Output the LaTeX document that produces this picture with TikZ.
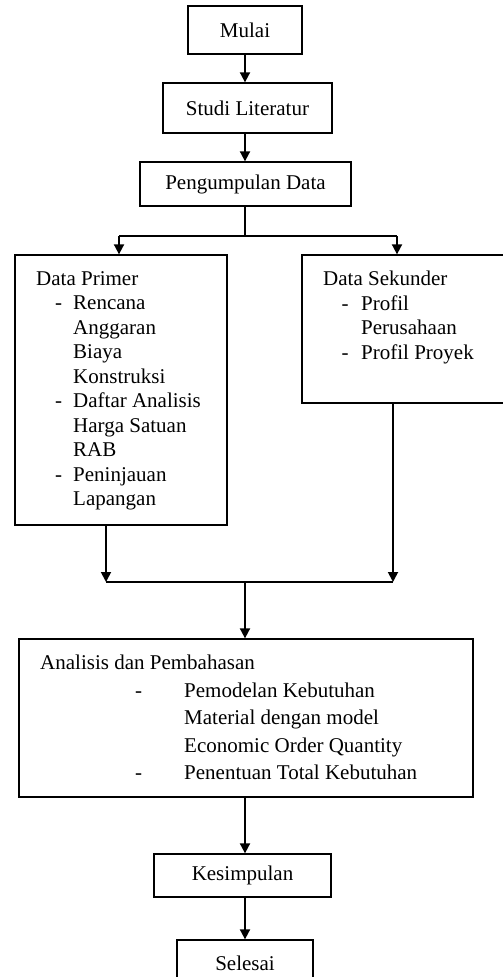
\documentclass[tikz,border=0pt]{standalone}
\usepackage{fontspec}
\setmainfont{Liberation Serif}
\usetikzlibrary{arrows.meta}

% dash item: dash offset, text offset, text
\newcommand{\bul}[3]{\makebox[#2pt][l]{\hspace*{#1pt}-}#3}

\begin{document}
\begin{tikzpicture}[
        x=1pt, y=-1pt,
        font=\fontsize{21}{24.5}\selectfont,
        box/.style={
            draw=black,
            line width=1.3pt,
            inner sep=0pt,
            align=center
        },
        txt/.style={anchor=north west, inner sep=0pt, align=left},
        conn/.style={draw=black, line width=1.8pt},
        arr/.style={conn, -{Triangle[length=10pt,width=10pt]}}
    ]
        \path[use as bounding box, clip] (0,0) rectangle (503,977);

        % Main boxes
        \node[box, minimum width=114pt, minimum height=48pt] (mulai) at (245,30) {Mulai};
        \node[box, minimum width=169pt, minimum height=50pt] (studi) at (247.5,108) {Studi Literatur};
        \node[box, minimum width=211pt, minimum height=44pt] (kumpul) at (245.5,184) {Pengumpulan Data};
        \node[box, minimum width=212pt, minimum height=270pt] (primer) at (121,390) {};
        \node[box, minimum width=212pt, minimum height=148pt] (sekunder) at (408,329) {};
        \node[box, minimum width=454pt, minimum height=158pt] (analisis) at (246,718) {};
        \node[box, minimum width=177pt, minimum height=43pt] (simpul) at (242.5,875.5) {Kesimpulan};
        \node[box, minimum width=136pt, minimum height=46pt] (selesai) at (245,963) {Selesai};

        % Texts inside the big boxes
        \node[txt] (primertxt) at (36,271) {Data Primer\\
            \bul{19}{37}{Rencana}\\
            \hspace*{37pt}Anggaran\\
            \hspace*{37pt}Biaya\\
            \hspace*{37pt}Konstruksi\\
            \bul{19}{37}{Daftar Analisis}\\
            \hspace*{37pt}Harga Satuan\\
            \hspace*{37pt}RAB\\
            \bul{19}{37}{Peninjauan}\\
            \hspace*{37pt}Lapangan};
        \node[txt] (sekundertxt) at (323,271) {Data Sekunder\\
            \bul{18.5}{38}{Profil}\\
            \hspace*{38pt}Perusahaan\\
            \bul{18.5}{38}{Profil Proyek}};
        \node[txt, font=\fontsize{21}{27.5}\selectfont] (analisistxt) at (40,655) {Analisis dan Pembahasan\\
            \bul{95}{144}{Pemodelan Kebutuhan}\\
            \hspace*{144pt}Material dengan model\\
            \hspace*{144pt}Economic Order Quantity\\
            \bul{95}{144}{Penentuan Total Kebutuhan}};

        % Branch and join points
        \coordinate (splitL) at (119,236);
        \coordinate (splitR) at (397,236);
        \coordinate (joinL) at (106,582);
        \coordinate (joinR) at (393,582);
        \coordinate (joinM) at (245,582);

        % Connectors
        \draw[arr] (mulai) -- (mulai |- studi.north);
        \draw[arr] (mulai |- studi.south) -- (mulai |- kumpul.north);
        \draw[conn] (mulai |- kumpul.south) -- (mulai |- splitL);
        \draw[conn] (splitL) -- (splitR);
        \draw[arr] (splitL) -- (splitL |- primer.north);
        \draw[arr] (splitR) -- (splitR |- sekunder.north);
        \draw[arr] (joinL |- primer.south) -- (joinL);
        \draw[arr] (joinR |- sekunder.south) -- (joinR);
        \draw[conn] (joinL) -- (joinR);
        \draw[arr] (joinM) -- (joinM |- analisis.north);
        \draw[arr] (joinM |- analisis.south) -- (joinM |- simpul.north);
        \draw[arr] (joinM |- simpul.south) -- (joinM |- selesai.north);
    \end{tikzpicture}
\end{document}
